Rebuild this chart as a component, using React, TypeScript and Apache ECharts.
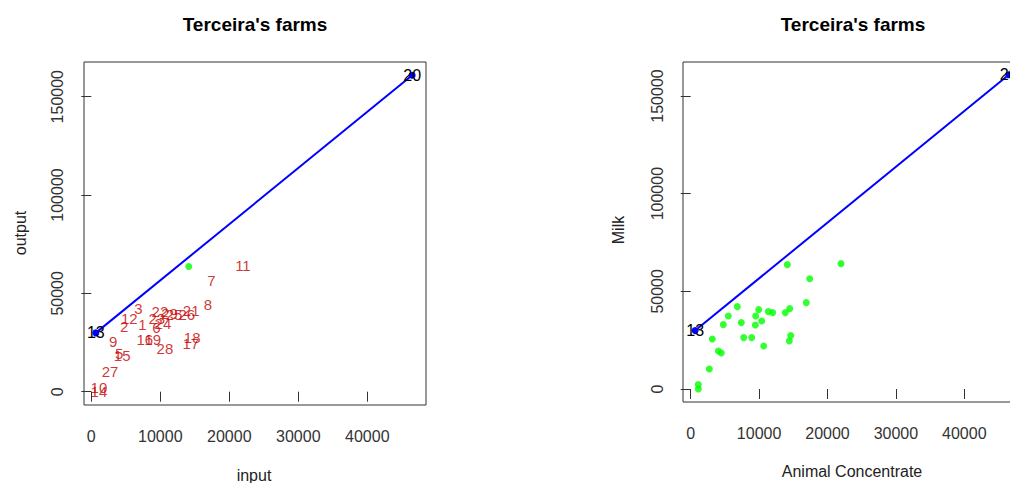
import React, { useEffect, useRef } from "react";
import * as echarts from "echarts";

const farmLabels = [
  "1", "2", "3", "4", "5", "6", "7", "8", "9", "10",
  "11", "12", "13", "14", "15", "16", "17", "18", "19", "20",
  "21", "22", "23", "24", "25", "26", "27", "28", "29",
];
const concentrate = [
  7398, 4766, 6813, 14123, 4035, 9450, 17398, 16901, 3158, 1111,
  21974, 5497, 650, 1111, 4474, 7749, 14415, 14620, 8918, 46500,
  14474, 9942, 9503, 10380, 11988, 13830, 2719, 10673, 11345,
];
const milk = [
  33982, 32958, 42170, 63664, 19447, 32753, 56485, 44216, 25589, 2252,
  64176, 37358, 29900, 0, 18424, 26305, 24565, 27328, 26305, 160900,
  41146, 40634, 37358, 34800, 39099, 39099, 10235, 22005, 39611,
];
const frontierFarms = ["13", "20"];
const leftGreenFarms = ["4"];
const xTicks = [0, 10000, 20000, 30000, 40000];
const yTicks = [0, 50000, 100000, 150000];

const FONT = "Liberation Sans, Arial, sans-serif";

function pt(i: number) {
  return { name: farmLabels[i], value: [concentrate[i], milk[i]] };
}

export default function App() {
  const ref = useRef<HTMLDivElement>(null);
  useEffect(() => {
    if (!ref.current) return;
    const chart = echarts.init(ref.current, null, { renderer: "svg" });
    const idx = farmLabels.map((_, i) => i);
    const frontier = idx.filter((i) => frontierFarms.includes(farmLabels[i])).map(pt);
    const leftRed = idx
      .filter((i) => !frontierFarms.includes(farmLabels[i]) && !leftGreenFarms.includes(farmLabels[i]))
      .map(pt);
    const leftGreen = idx.filter((i) => leftGreenFarms.includes(farmLabels[i])).map(pt);
    const rightGreen = idx.filter((i) => !frontierFarms.includes(farmLabels[i])).map(pt);

    const plain = (v: number) => String(v);

    const mkX = (gi: number, min: number, max: number, margin: number) => ({
      type: "value",
      gridIndex: gi,
      min,
      max,
      splitLine: { show: false },
      axisLine: { show: false },
      axisTick: {
        show: true,
        inside: false,
        length: 10,
        customValues: xTicks,
        lineStyle: { color: "#333", width: 1 },
      },
      axisLabel: {
        show: true,
        customValues: xTicks,
        formatter: plain,
        fontSize: 16,
        fontFamily: FONT,
        color: "#333",
        margin,
      },
    });
    const mkY = (gi: number, min: number, max: number, margin: number) => ({
      type: "value",
      gridIndex: gi,
      min,
      max,
      splitLine: { show: false },
      axisLine: { show: false },
      axisTick: {
        show: true,
        inside: false,
        length: 10,
        customValues: yTicks,
        lineStyle: { color: "#333", width: 1 },
      },
      axisLabel: {
        show: true,
        customValues: yTicks,
        formatter: plain,
        rotate: 90,
        fontSize: 16,
        fontFamily: FONT,
        color: "#333",
        margin,
      },
    });

    const frontierSeries = (gi: number) => ({
      type: "line",
      xAxisIndex: gi,
      yAxisIndex: gi,
      data: frontier,
      clip: false,
      lineStyle: { color: "#0000ff", width: 2 },
      symbol: "circle",
      symbolSize: 7,
      itemStyle: { color: "#0000ff" },
      label: {
        show: true,
        position: "inside",
        formatter: "{b}",
        color: "#000",
        fontSize: 16,
        fontFamily: FONT,
      },
      z: 5,
    });

    const text = (x: number, y: number, t: string, size: number, bold = false, rot = 0) => ({
      type: "text",
      x,
      y,
      rotation: rot,
      style: {
        text: t,
        fontSize: size,
        fontWeight: bold ? "bold" : "normal",
        fontFamily: FONT,
        fill: bold ? "#000" : "#222",
        textAlign: "center",
        textVerticalAlign: "middle",
      },
    });

    chart.setOption({
      animation: false,
      backgroundColor: "#fff",
      grid: [
        { left: 84, top: 62, width: 342, height: 343, show: true, borderColor: "#333", borderWidth: 1, backgroundColor: "transparent" },
        { left: 683, top: 62, width: 339, height: 340, show: true, borderColor: "#333", borderWidth: 1, backgroundColor: "transparent" },
      ],
      xAxis: [mkX(0, -1058, 48507, 23), mkX(1, -1126, 48436, 23)],
      yAxis: [mkY(0, -6763, 167640, 19), mkY(1, -6655, 167400, 18)],
      series: [
        {
          type: "scatter",
          xAxisIndex: 0,
          yAxisIndex: 0,
          data: leftRed,
          symbolSize: 1,
          itemStyle: { color: "rgba(0,0,0,0)" },
          label: {
            show: true,
            position: "inside",
            formatter: "{b}",
            color: "#c40000",
            fontSize: 15,
            fontFamily: FONT,
          },
        },
        {
          type: "scatter",
          xAxisIndex: 0,
          yAxisIndex: 0,
          data: leftGreen,
          symbolSize: 7,
          itemStyle: { color: "#00ff00" },
        },
        frontierSeries(0),
        {
          type: "scatter",
          xAxisIndex: 1,
          yAxisIndex: 1,
          data: rightGreen,
          symbolSize: 7,
          itemStyle: { color: "#00ff00" },
        },
        frontierSeries(1),
      ],
      graphic: [
        text(255, 24, "Terceira's farms", 19, true),
        text(853, 24, "Terceira's farms", 19, true),
        text(254, 475, "input", 16),
        text(852, 471, "Animal Concentrate", 16),
        text(20, 233, "output", 16, false, Math.PI / 2),
        text(618, 230, "Milk", 16, false, Math.PI / 2),
      ],
    });
    return () => chart.dispose();
  }, []);

  return (
    <div style={{ position: "fixed", left: 0, top: 0, width: 1010, height: 483, overflow: "hidden", background: "#fff" }}>
      <div ref={ref} style={{ width: 1040, height: 483 }} />
    </div>
  );
}
